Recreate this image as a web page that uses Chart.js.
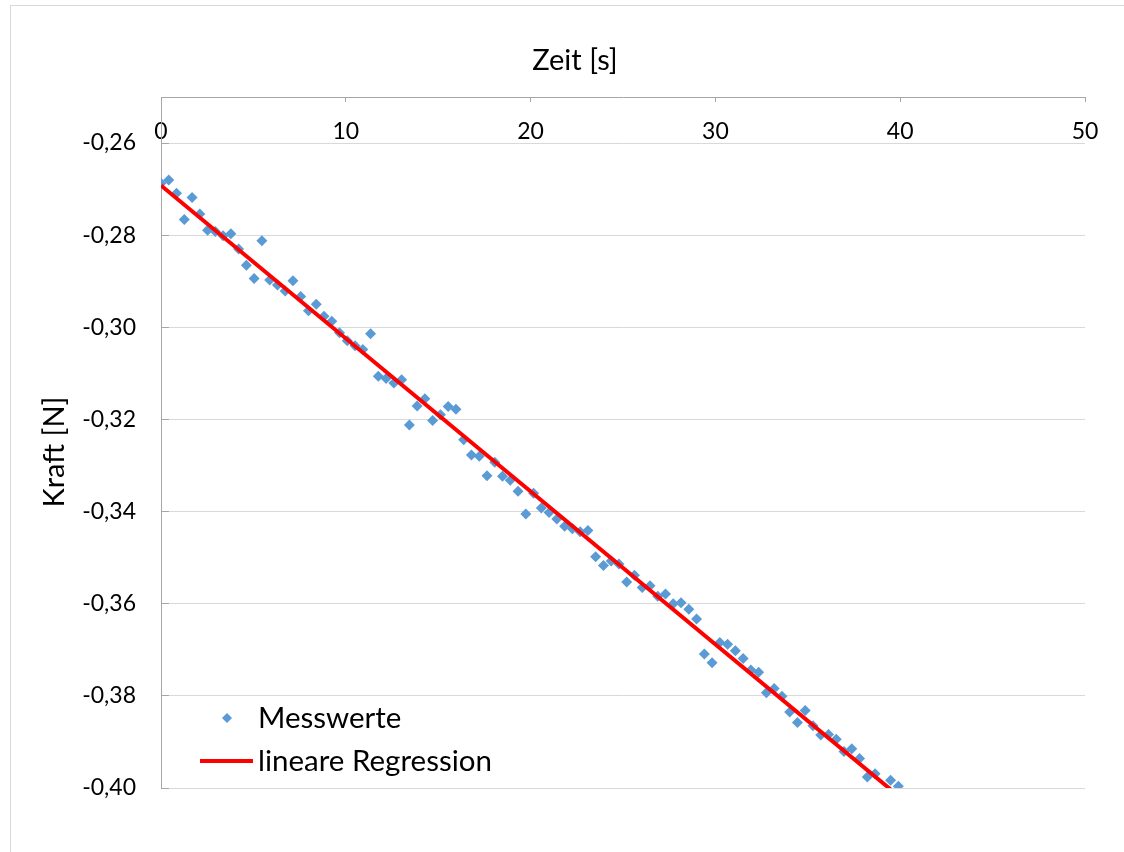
<!DOCTYPE html>
<html lang="de">
<head>
<meta charset="utf-8">
<title>Kraft über Zeit</title>
<script src="https://cdn.jsdelivr.net/npm/chart.js@4.4.0/dist/chart.umd.min.js"></script>
<style>
  html, body { margin: 0; padding: 0; background: #fff; }
  canvas { display: block; }
</style>
</head>
<body>
<canvas id="kraftChart" width="1124" height="852"></canvas>
<script>
// Messzeitpunkte [s]
const zeit = [
  0.00, 0.42, 0.84, 1.26, 1.68, 2.10, 2.52, 2.94, 3.36, 3.78,
  4.20, 4.62, 5.04, 5.46, 5.88, 6.30, 6.72, 7.14, 7.56, 7.98,
  8.40, 8.82, 9.24, 9.66, 10.08, 10.50, 10.92, 11.34, 11.76, 12.18,
  12.60, 13.02, 13.44, 13.86, 14.28, 14.70, 15.12, 15.54, 15.96, 16.38,
  16.80, 17.22, 17.64, 18.06, 18.48, 18.90, 19.32, 19.74, 20.16, 20.58,
  21.00, 21.42, 21.84, 22.26, 22.68, 23.10, 23.52, 23.94, 24.36, 24.78,
  25.20, 25.62, 26.04, 26.46, 26.88, 27.30, 27.72, 28.14, 28.56, 28.98,
  29.40, 29.82, 30.24, 30.66, 31.08, 31.50, 31.92, 32.34, 32.76, 33.18,
  33.60, 34.02, 34.44, 34.86, 35.28, 35.70, 36.12, 36.54, 36.96, 37.38,
  37.80, 38.22, 38.64, 39.06, 39.48, 39.90
];

// gemessene Kraft [N]
const kraft = [
  -0.2687, -0.2680, -0.2709, -0.2766, -0.2718, -0.2754, -0.2789, -0.2792, -0.2801, -0.2797,
  -0.2830, -0.2865, -0.2894, -0.2812, -0.2897, -0.2908, -0.2921, -0.2899, -0.2933, -0.2964,
  -0.2950, -0.2976, -0.2987, -0.3012, -0.3029, -0.3040, -0.3048, -0.3014, -0.3106, -0.3111,
  -0.3121, -0.3114, -0.3212, -0.3171, -0.3155, -0.3202, -0.3190, -0.3172, -0.3178, -0.3244,
  -0.3277, -0.3280, -0.3322, -0.3293, -0.3323, -0.3332, -0.3356, -0.3405, -0.3360, -0.3392,
  -0.3402, -0.3416, -0.3432, -0.3437, -0.3444, -0.3441, -0.3498, -0.3517, -0.3507, -0.3514,
  -0.3553, -0.3538, -0.3565, -0.3561, -0.3584, -0.3579, -0.3600, -0.3598, -0.3612, -0.3633,
  -0.3709, -0.3728, -0.3684, -0.3688, -0.3702, -0.3719, -0.3744, -0.3749, -0.3793, -0.3784,
  -0.3801, -0.3835, -0.3858, -0.3832, -0.3865, -0.3885, -0.3884, -0.3894, -0.3921, -0.3915,
  -0.3936, -0.3976, -0.3969, -0.4012, -0.3983, -0.3996
];

// Regressionsgerade (Anfang und Ende)
const regZeit = [0, 39.9];
const regKraft = [-0.2692, -0.4017];

const xTicks = [0, 10, 20, 30, 40, 50];
const yTicks = [-0.40, -0.38, -0.36, -0.34, -0.32, -0.30, -0.28, -0.26];

const FONT = 'Lato, "Open Sans", sans-serif';
const BLAU = '#5b9bd5';
const ROT = '#ff0000';

// Rahmen, Achsentitel und Legende
const beschriftung = {
  id: 'beschriftung',
  beforeDraw(chart){
    const ctx = chart.ctx;
    ctx.save();
    ctx.fillStyle = '#fff';
    ctx.fillRect(0, 0, chart.width, chart.height);
    ctx.strokeStyle = '#d9d9d9';
    ctx.lineWidth = 1;
    ctx.strokeRect(10.5, 5.5, chart.width + 20, chart.height + 20);
    ctx.restore();
  },
  afterDraw(chart){
    const ctx = chart.ctx, a = chart.chartArea;
    ctx.save();
    ctx.fillStyle = '#000';
    ctx.textBaseline = 'middle';

    ctx.font = '29px ' + FONT;
    ctx.textAlign = 'center';
    ctx.fillText('Zeit [s]', 575, 61);

    ctx.save();
    ctx.translate(55, 452);
    ctx.rotate(-Math.PI / 2);
    ctx.fillText('Kraft [N]', 0, 0);
    ctx.restore();

    // Legende unten links im Diagramm
    const lx = a.left + 66, ly1 = a.bottom - 70, ly2 = a.bottom - 27;
    ctx.fillStyle = BLAU;
    ctx.beginPath();
    ctx.moveTo(lx - 5, ly1);
    ctx.lineTo(lx, ly1 - 5);
    ctx.lineTo(lx + 5, ly1);
    ctx.lineTo(lx, ly1 + 5);
    ctx.closePath();
    ctx.fill();

    ctx.strokeStyle = ROT;
    ctx.lineWidth = 4;
    ctx.beginPath();
    ctx.moveTo(a.left + 39, ly2);
    ctx.lineTo(a.left + 92, ly2);
    ctx.stroke();

    ctx.fillStyle = '#000';
    ctx.textAlign = 'left';
    ctx.font = '29.5px ' + FONT;
    ctx.fillText('Messwerte', a.left + 97, ly1);
    ctx.fillText('lineare Regression', a.left + 97, ly2);
    ctx.restore();
  }
};

new Chart(document.getElementById('kraftChart'), {
  type: 'scatter',
  data: {
    datasets: [
      {
        label: 'lineare Regression',
        data: regZeit.map((x, i) => ({ x: x, y: regKraft[i] })),
        showLine: true,
        borderColor: ROT,
        borderWidth: 4,
        pointRadius: 0,
        order: 0
      },
      {
        label: 'Messwerte',
        data: zeit.map((x, i) => ({ x: x, y: kraft[i] })),
        pointStyle: 'rectRot',
        pointRadius: 5.5,
        backgroundColor: BLAU,
        borderWidth: 0,
        order: 1
      }
    ]
  },
  options: {
    responsive: false,
    animation: false,
    layout: { padding: { left: 10, top: 10, right: 39, bottom: 64 } },
    plugins: {
      legend: { display: false },
      tooltip: { enabled: false }
    },
    scales: {
      x: {
        type: 'linear',
        position: 'top',
        min: 0,
        max: 50,
        afterBuildTicks: s => { s.ticks = xTicks.map(v => ({ value: v })); },
        afterFit: s => { s.height = 87; },
        grid: { drawOnChartArea: false, tickLength: -5, tickColor: '#a6a6a6' },
        border: { color: '#a6a6a6', width: 1 },
        // Beschriftung unterhalb der Achsenlinie, also im Diagramm
        ticks: { mirror: true, padding: 21, maxRotation: 0, color: '#000', font: { family: FONT, size: 23 } }
      },
      y: {
        type: 'linear',
        position: 'left',
        min: -0.40,
        max: -0.25,
        afterBuildTicks: s => { s.ticks = yTicks.map(v => ({ value: v })); },
        afterFit: s => { s.width = 151; },
        grid: { color: '#d9d9d9', tickLength: -8, tickColor: '#a6a6a6' },
        border: { color: '#a6a6a6', width: 1 },
        ticks: {
          padding: 33,
          color: '#000',
          font: { family: FONT, size: 23 },
          callback: v => v.toFixed(2).replace('.', ',')
        }
      }
    }
  },
  plugins: [beschriftung]
});
</script>
</body>
</html>
